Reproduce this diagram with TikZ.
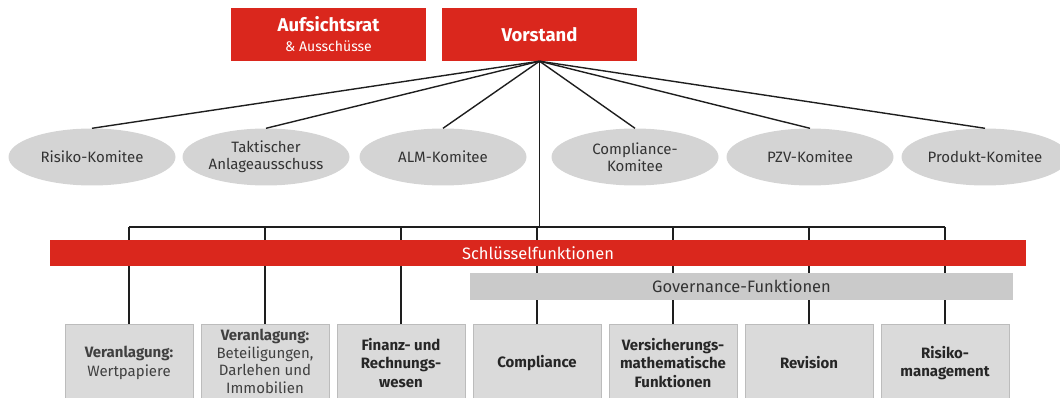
\documentclass[tikz,border=0pt]{standalone}
\usepackage{fontspec}
\setmainfont{Fira Sans}
\usetikzlibrary{shapes.geometric}
\definecolor{boardred}{RGB}{218,39,29}
\definecolor{komgray}{RGB}{212,212,212}
\definecolor{unitgray}{RGB}{218,218,218}
\definecolor{unitline}{RGB}{188,188,188}
\definecolor{govgray}{RGB}{202,202,202}
\definecolor{linkgray}{RGB}{30,30,30}

\begin{document}
\begin{tikzpicture}[x=1pt,y=-1pt,node distance=136pt,
  top node/.style={rectangle,fill=boardred,text=white,minimum width=195pt,minimum height=53pt,inner sep=0pt,align=center,font=\bfseries\fontsize{18.5}{19}\selectfont},
  komitee node/.style={ellipse,fill=komgray,text=black!80,minimum width=167pt,minimum height=57pt,inner sep=0pt,align=center,font=\fontsize{15}{17}\selectfont},
  unit node/.style={rectangle,fill=unitgray,draw=unitline,line width=1pt,minimum width=128pt,minimum height=78pt,inner sep=0pt,align=center,text=black!75,font=\fontsize{15}{18.5}\selectfont},
  key unit/.style={unit node,text=black!85,font=\bfseries\fontsize{15}{18.5}\selectfont},
  link/.style={draw=linkgray,line width=1.4pt}]
  \useasboundingbox (0,0) rectangle (1060,398);
  \clip (0,0) rectangle (1060,398);
  % board
  \node[top node] (aufsichtsrat) at (328.5,34.5) {Aufsichtsrat\\[1pt]{\mdseries\fontsize{14}{16}\selectfont\& Ausschüsse}};
  \node[top node] (vorstand) at (539.5,34.5) {Vorstand};
  % committees
  \node[komitee node] (risiko) at (92,157) {Risiko-Komitee};
  \node[komitee node] (taktik) at (266,157) {Taktischer\\Anlageausschuss};
  \node[komitee node] (alm) at (443,157) {ALM-Komitee};
  \node[komitee node] (compkom) at (635,157) {Compliance-\\Komitee};
  \node[komitee node] (pzv) at (810,157) {PZV-Komitee};
  \node[komitee node] (produkt) at (985,157) {Produkt-Komitee};
  % units
  \node[unit node] (wertpapiere) at (129,363) {\textbf{Veranlagung:}\\Wertpapiere};
  \node[unit node,font=\fontsize{15}{17.5}\selectfont] (beteiligung)[right of=wertpapiere] {\textbf{Veranlagung:}\\Beteiligungen,\\Darlehen und\\Immobilien\vphantom{g}};
  \node[key unit] (finanz)[right of=beteiligung] {Finanz- und\\Rechnungs-\\wesen};
  \node[key unit] (compliance)[right of=finanz] {Compliance};
  \node[key unit] (aktuar)[right of=compliance] {Versicherungs-\\mathematische\\Funktionen};
  \node[key unit] (revision)[right of=aktuar] {Revision};
  \node[key unit] (risikomgmt)[right of=revision] {Risiko-\\management};
  % links
  \foreach \k in {risiko,taktik,alm,compkom,pzv,produkt}
    \draw[link] (vorstand.south) -- (\k.north);
  \coordinate (rail) at (0,227);
  \draw[link] (vorstand.south) -- (vorstand.south |- rail);
  \draw[link] (wertpapiere.north |- rail) -- (risikomgmt.north |- rail);
  \foreach \u in {wertpapiere,beteiligung,finanz,compliance,aktuar,revision,risikomgmt}
    \draw[link] (\u.north |- rail) -- (\u.north);
  % bars
  \node[fill=boardred,text=white,minimum width=976pt,minimum height=26pt,inner sep=0pt,font=\fontsize{16.5}{17}\selectfont] (schluessel) at (538,253) {Schlüsselfunktionen};
  \node[fill=govgray,text=black!80,minimum width=543pt,minimum height=27pt,inner sep=0pt,font=\fontsize{16.5}{17}\selectfont] (governance) at (741.5,286.5) {Governance-Funktionen};
\end{tikzpicture}
\end{document}
